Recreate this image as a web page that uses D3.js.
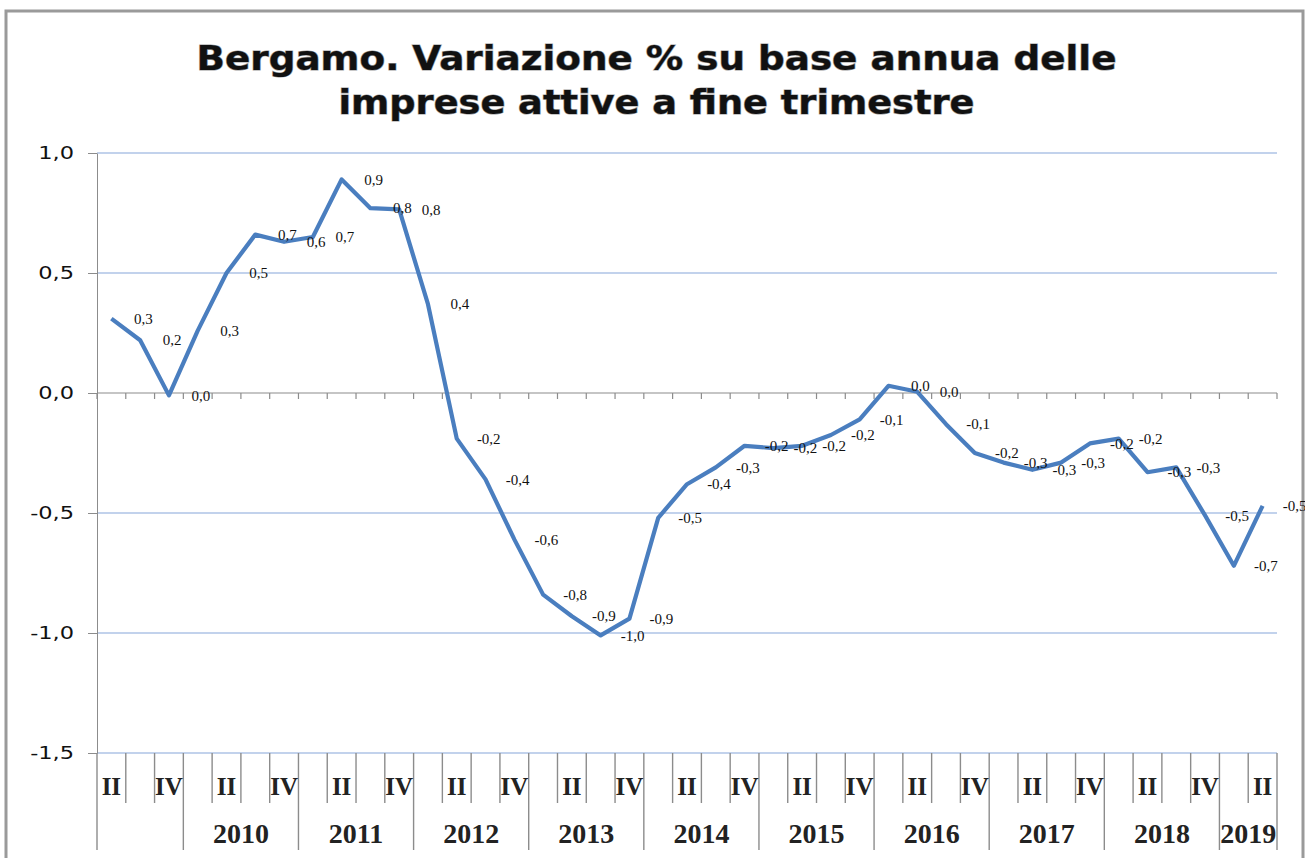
<!DOCTYPE html>
<html>
<head>
<meta charset="utf-8">
<script src="https://cdn.jsdelivr.net/npm/d3@7"></script>
<style>
  html, body { margin: 0; padding: 0; background: #fff; }
  svg { display: block; }
</style>
</head>
<body>
<div id="chart"></div>
<script>
// quarterly change of active firms, Bergamo
const categories = [
  "2009 II", "2009 III", "2009 IV",
  "2010 I", "2010 II", "2010 III", "2010 IV",
  "2011 I", "2011 II", "2011 III", "2011 IV",
  "2012 I", "2012 II", "2012 III", "2012 IV",
  "2013 I", "2013 II", "2013 III", "2013 IV",
  "2014 I", "2014 II", "2014 III", "2014 IV",
  "2015 I", "2015 II", "2015 III", "2015 IV",
  "2016 I", "2016 II", "2016 III", "2016 IV",
  "2017 I", "2017 II", "2017 III", "2017 IV",
  "2018 I", "2018 II", "2018 III", "2018 IV",
  "2019 I", "2019 II"
];
const values = [
  0.31, 0.22, -0.01,
  0.26, 0.50, 0.66, 0.63,
  0.65, 0.89, 0.77, 0.765,
  0.37, -0.19, -0.36, -0.61,
  -0.84, -0.93, -1.01, -0.94,
  -0.52, -0.38, -0.31, -0.22,
  -0.23, -0.22, -0.175, -0.11,
  0.03, 0.005, -0.13, -0.25,
  -0.29, -0.32, -0.29, -0.21,
  -0.19, -0.33, -0.31, -0.51,
  -0.72, -0.47
];
const valueLabels = [
  "0,3", "0,2", "0,0",
  "0,3", "0,5", "0,7", "0,6",
  "0,7", "0,9", "0,8", "0,8",
  "0,4", "-0,2", "-0,4", "-0,6",
  "-0,8", "-0,9", "-1,0", "-0,9",
  "-0,5", "-0,4", "-0,3", "-0,2",
  "-0,2", "-0,2", "-0,2", "-0,1",
  "0,0", "0,0", "-0,1", "-0,2",
  "-0,3", "-0,3", "-0,3", "-0,2",
  "-0,2", "-0,3", "-0,3", "-0,5",
  "-0,7", "-0,5"
];
const years      = ["2009", "2010", "2011", "2012", "2013", "2014", "2015", "2016", "2017", "2018", "2019"];
const yearLabels = ["", "2010", "2011", "2012", "2013", "2014", "2015", "2016", "2017", "2018", "2019"];
const shownQuarters = ["II", "IV"];
const yTicks      = [-1.5, -1.0, -0.5, 0.0, 0.5, 1.0];
const yTickLabels = ["-1,5", "-1,0", "-0,5", "0,0", "0,5", "1,0"];
const titleLines  = ["Bergamo. Variazione % su base annua delle", "imprese attive a fine trimestre"];

const W = 1305, H = 858;
const svg = d3.select("#chart").append("svg").attr("width", W).attr("height", H);

// outer frame
svg.append("path")
  .attr("d", `M6,${H} L6,11 L1303,11 L1303,${H}`)
  .attr("fill", "none").attr("stroke", "#9a9a9a").attr("stroke-width", 3);

// title
const titleW = [920, 636];
svg.selectAll(".title").data(titleLines).join("text")
  .attr("class", "title")
  .attr("x", W / 2 + 4)
  .attr("y", (d, i) => 70 + i * 44)
  .attr("text-anchor", "middle")
  .attr("textLength", (d, i) => titleW[i])
  .attr("lengthAdjust", "spacingAndGlyphs")
  .style("font-family", "'DejaVu Sans', Verdana, sans-serif")
  .style("font-weight", "bold")
  .style("font-size", "33px")
  .style("fill", "#111")
  .style("stroke", "#9a9a9a")
  .style("stroke-width", 1.2)
  .style("paint-order", "stroke")
  .text(d => d);

// scales
const x = d3.scaleBand().domain(categories).range([97, 1277]).padding(0);
const y = d3.scaleLinear().domain([-1.5, 1.0]).range([753, 153]);
const bw = x.bandwidth();
const cx = c => x(c) + bw / 2;

// gridlines
svg.append("g").selectAll("line")
  .data(yTicks.filter(v => v !== 0))
  .join("line")
  .attr("x1", 97).attr("x2", 1277)
  .attr("y1", d => y(d)).attr("y2", d => y(d))
  .attr("stroke", "#aec3e6").attr("stroke-width", 1.6);

// y axis
const yAxis = d3.axisLeft(y)
  .tickValues(yTicks)
  .tickSize(9)
  .tickSizeOuter(0)
  .tickFormat((d, i) => yTickLabels[i]);
const yAxisG = svg.append("g").attr("transform", "translate(97,0)").call(yAxis);
yAxisG.select(".domain").attr("stroke", "#8c8c8c");
yAxisG.selectAll(".tick line").attr("stroke", "#8c8c8c");
const stretch = 1.25;
yAxisG.selectAll(".tick text")
  .attr("x", -23 / stretch)
  .attr("transform", `scale(${stretch},1)`)
  .style("font-family", "'DejaVu Sans', Verdana, sans-serif")
  .style("font-size", "18px")
  .style("fill", "#111");

// category axis crossing at zero
const bounds = categories.map(c => x(c)).concat([x.range()[1]]);
svg.append("line")
  .attr("x1", 97).attr("x2", 1277)
  .attr("y1", y(0)).attr("y2", y(0))
  .attr("stroke", "#8c8c8c").attr("stroke-width", 1.2);
svg.append("g").selectAll("line").data(bounds).join("line")
  .attr("x1", d => d).attr("x2", d => d)
  .attr("y1", y(0)).attr("y2", y(0) + 6)
  .attr("stroke", "#8c8c8c").attr("stroke-width", 1.2);

// line series
const line = d3.line()
  .x((d, i) => cx(categories[i]))
  .y(d => y(d));
svg.append("path")
  .datum(values)
  .attr("d", line)
  .attr("fill", "none")
  .attr("stroke", "#4a7ebf")
  .attr("stroke-width", 4.2)
  .attr("stroke-linejoin", "round");

// data labels
svg.append("g").selectAll("text").data(values).join("text")
  .attr("x", (d, i) => cx(categories[i]) + 32)
  .attr("y", d => y(d))
  .attr("dy", "0.35em")
  .attr("text-anchor", "middle")
  .style("font-family", "'Liberation Serif', 'Times New Roman', serif")
  .style("font-size", "15px")
  .style("fill", "#111")
  .text((d, i) => valueLabels[i]);

// multi-level category labels at the bottom
const yearStarts = new Set(years.map(yr => categories.findIndex(c => c.startsWith(yr))));
yearStarts.add(categories.length);
svg.append("g").selectAll("line").data(bounds).join("line")
  .attr("x1", d => d).attr("x2", d => d)
  .attr("y1", 753)
  .attr("y2", (d, i) => yearStarts.has(i) ? 850 : 803)
  .attr("stroke", "#8c8c8c").attr("stroke-width", 1.4);

svg.append("g").selectAll("text")
  .data(categories.filter(c => shownQuarters.includes(c.split(" ")[1])))
  .join("text")
  .attr("x", d => cx(d))
  .attr("y", 795)
  .attr("text-anchor", "middle")
  .style("font-family", "'Liberation Serif', 'Times New Roman', serif")
  .style("font-weight", "bold")
  .style("font-size", "25px")
  .style("fill", "#222")
  .text(d => d.split(" ")[1]);

svg.append("g").selectAll("text").data(years).join("text")
  .attr("x", yr => {
    const idx = categories.filter(c => c.startsWith(yr)).map(c => x(c));
    return (d3.min(idx) + d3.max(idx) + bw) / 2;
  })
  .attr("y", 843)
  .attr("text-anchor", "middle")
  .style("font-family", "'Liberation Serif', 'Times New Roman', serif")
  .style("font-weight", "bold")
  .style("font-size", "28px")
  .style("fill", "#222")
  .text((d, i) => yearLabels[i]);
</script>
</body>
</html>
